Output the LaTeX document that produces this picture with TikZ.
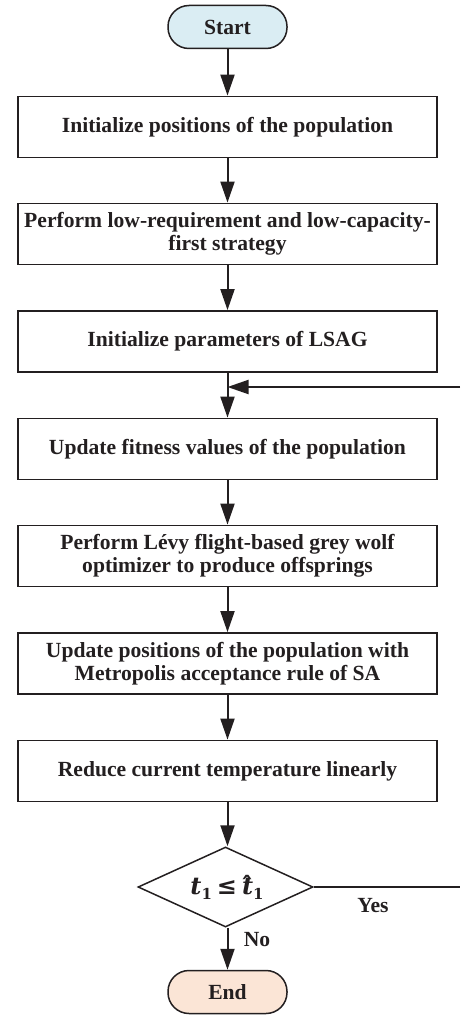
\documentclass[tikz,border=0pt]{standalone}
\usepackage{fontspec}
\setmainfont{Liberation Serif}
\newfontfamily\exprfont{DejaVu Serif}
\usetikzlibrary{shapes.geometric,arrows.meta}
\definecolor{startfill}{RGB}{218,237,243}
\definecolor{endfill}{RGB}{251,229,214}
\definecolor{linec}{RGB}{35,31,32}
\newcommand{\tsym}{{\itshape t}}
\newcommand{\subone}{\raisebox{-5pt}{\fontsize{15}{15}\selectfont 1}}
\tikzset{
  txt/.style={font=\fontsize{21.6}{23}\selectfont\bfseries, text=linec},
  proc/.style={txt, draw=linec, line width=1.8pt, minimum width=419pt, minimum height=61pt, inner sep=0pt, align=center},
  term/.style={txt, draw=linec, line width=1.5pt, rounded corners=21pt, minimum width=119pt, minimum height=43pt, inner sep=0pt},
  dec/.style={draw=linec, line width=1.5pt, diamond, aspect=2.2, minimum width=175pt, minimum height=80pt, inner sep=0pt, text=linec, font=\exprfont\bfseries\fontsize{24}{26}\selectfont},
  flow/.style={draw=linec, line width=2pt, -{Triangle[length=21pt,width=14pt]}},
  plainline/.style={draw=linec, line width=2pt},
  lbl/.style={txt, inner sep=0pt}
}
\begin{document}
\begin{tikzpicture}[x=1pt,y=1pt]
\useasboundingbox (0,0) rectangle (461,-1019);
\node[term, fill=startfill] (start) at (227.5,-27) {Start};
\node[proc] (b1) at (227.5,-127) {Initialize positions of the population};
\node[proc] (b2) at (227.5,-234) {Perform low-requirement and low-capacity-\\first strategy};
\node[proc] (b3) at (227.5,-341.5) {Initialize parameters of LSAG};
\node[proc] (b4) at (227.5,-449) {Update fitness values of the population};
\node[proc] (b5) at (227.5,-556) {Perform Lévy flight-based grey wolf\\optimizer to produce offsprings};
\node[proc] (b6) at (227.5,-663.5) {Update positions of the population with\\Metropolis acceptance rule of SA};
\node[proc] (b7) at (227.5,-771) {Reduce current temperature linearly};
\node[dec] (d) at (225.5,-887) {\hspace{3pt}\tsym\subone\hspace{5pt}≤\hspace{5pt}\^{\tsym}\subone};
\node[term, fill=endfill] (end) at (227.5,-992) {End};
\node[lbl] (yes) at (373,-906) {Yes};
\node[lbl] (no) at (257,-940) {No};
\coordinate (fbR) at (460,-387);
\coordinate (fb) at (227.5,-387);
\coordinate (yesR) at (460,-887);
\draw[flow] (start) -- (b1);
\draw[flow] (b1) -- (b2);
\draw[flow] (b2) -- (b3);
\draw[flow] (b3) -- (b4);
\draw[flow] (fbR) -- (fb);
\draw[flow] (b4) -- (b5);
\draw[flow] (b5) -- (b6);
\draw[flow] (b6) -- (b7);
\draw[flow] (b7.south) -- (b7.south |- d.north);
\draw[flow] (d.south -| end.north) -- (end.north);
\draw[plainline] (d.east) -- (yesR);
\end{tikzpicture}
\end{document}
